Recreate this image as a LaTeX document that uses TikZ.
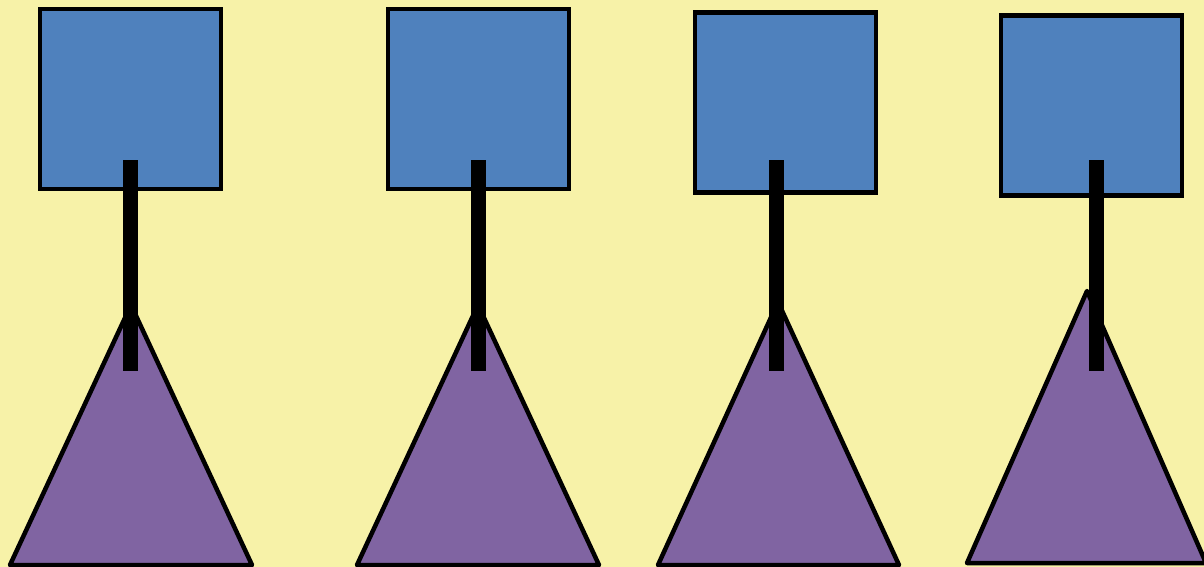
\documentclass[tikz,border=0pt]{standalone}
\definecolor{bgyellow}{HTML}{F7F2A8}
\definecolor{sqblue}{HTML}{4F81BD}
\definecolor{tripurple}{HTML}{8064A2}
\tikzset{
  sq/.style={rectangle, draw=black, fill=sqblue, line width=4.5pt, minimum width=181pt, minimum height=180pt, inner sep=0pt, outer sep=0pt},
  tri/.style={draw=black, fill=tripurple, line width=4.5pt, line join=round},
  bar/.style={draw=black, line width=15pt, line cap=butt}
}
\begin{document}
\begin{tikzpicture}[x=1pt,y=-1pt]
\fill[bgyellow] (0,0) rectangle (1204,567);
\useasboundingbox (0,0) rectangle (1204,567);
% squares
\node[sq] (s1) at (130.5,99) {};
\node[sq] (s2) at (478.5,99) {};
\node[sq] (s3) at (785.5,102.5) {};
\node[sq] (s4) at (1091.5,105.5) {};
% triangles
\coordinate (t1) at (131,305);
\coordinate (t1l) at (10,565);
\coordinate (t1r) at (252,565);
\coordinate (t2) at (478,305);
\coordinate (t2l) at (357,565);
\coordinate (t2r) at (599,565);
\coordinate (t3) at (778,302);
\coordinate (t3l) at (658,565);
\coordinate (t3r) at (899,565);
\coordinate (t4) at (1087,291);
\coordinate (t4l) at (967,563);
\coordinate (t4r) at (1206,563);
\draw[tri] (t1) -- (t1l) -- (t1r) -- cycle;
\draw[tri] (t2) -- (t2l) -- (t2r) -- cycle;
\draw[tri] (t3) -- (t3l) -- (t3r) -- cycle;
\draw[tri] (t4) -- (t4l) -- (t4r) -- cycle;
% bars
\coordinate (b1a) at (130.5,160); \coordinate (b1b) at (130.5,371);
\coordinate (b2a) at (478.5,160); \coordinate (b2b) at (478.5,371);
\coordinate (b3a) at (776,160); \coordinate (b3b) at (776,371);
\coordinate (b4a) at (1096,160); \coordinate (b4b) at (1096,371);
\draw[bar] (b1a) -- (b1b);
\draw[bar] (b2a) -- (b2b);
\draw[bar] (b3a) -- (b3b);
\draw[bar] (b4a) -- (b4b);
\end{tikzpicture}
\end{document}
